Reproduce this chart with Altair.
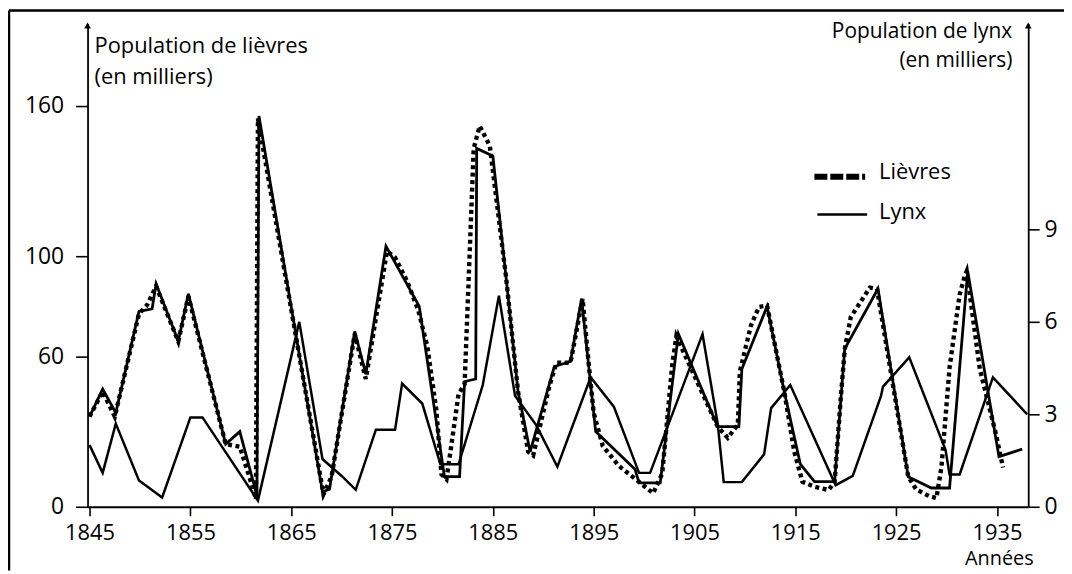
import altair as alt
import pandas as pd

# ---------------- data ----------------
hare_years = [1845, 1846.3, 1847.6, 1849.9, 1851.2, 1851.6, 1853.8, 1854.8, 1858.5, 1859.9,
              1861.6, 1861.8, 1868.1, 1868.8, 1871.3, 1872.4, 1874.4, 1877.7, 1880.2, 1881.7,
              1882.2, 1883.3, 1883.4, 1885.0, 1886.3, 1887.5, 1888.7, 1891.1, 1892.7, 1893.8,
              1895.2, 1899.1, 1899.5, 1901.6, 1903.4, 1907.3, 1909.4, 1909.7, 1912.2, 1913.9,
              1915.5, 1916.9, 1918.9, 1919.9, 1923.2, 1926.2, 1928.5, 1930.3, 1932.1, 1935.2,
              1937.5]
hare_values = [36, 47, 37.5, 78, 79, 89, 66, 85, 25, 30,
               4.5, 156, 6, 7, 70, 53, 104, 80, 12, 12,
               50, 51, 143, 140, 92, 46, 22, 56, 58, 83,
               30, 15, 9.5, 9.5, 69, 32, 32, 55, 80, 46,
               17, 10, 10, 63, 87, 12, 7.5, 7.5, 94, 20,
               23]

hare_dot_years = [1845, 1846.3, 1847.5, 1849.9, 1850.7, 1851.6, 1853.8, 1854.8, 1858.5, 1859.9,
                  1861.0, 1861.5, 1861.7, 1868.2, 1869.0, 1871.3, 1872.4, 1874.5, 1875.3, 1876.5,
                  1877.6, 1878.5, 1879.4, 1879.9, 1880.4, 1880.9, 1881.6, 1882.2, 1883.1, 1883.7,
                  1884.7, 1886.3, 1887.5, 1888.5, 1889.0, 1890.6, 1891.3, 1892.7, 1893.9, 1894.5,
                  1895.0, 1895.9, 1897.5, 1899.2, 1900.9, 1901.8, 1902.8, 1903.2, 1907.3, 1908.3,
                  1909.3, 1909.5, 1910.6, 1911.4, 1912.2, 1913.9, 1914.9, 1915.7, 1916.9, 1918.3,
                  1918.9, 1919.5, 1919.9, 1920.5, 1922.4, 1923.1, 1926.2, 1927.0, 1928.3, 1929.0,
                  1929.5, 1930.3, 1931.3, 1931.8, 1932.0, 1933.3, 1934.9, 1935.6]
hare_dot_values = [36, 46, 36, 77, 80.5, 88, 66, 84, 25, 24,
                   10, 3, 155, 5, 12, 69, 51, 102, 99.5, 90,
                   78.5, 64, 38.5, 13, 11, 25, 45, 49, 143, 152,
                   144, 92, 46, 22, 20.5, 48, 57.5, 57.5, 83, 57.5,
                   37.5, 24.3, 16.3, 10.9, 5.4, 13.3, 57, 68, 32, 27.5,
                   32.8, 54, 72.4, 79.8, 80.3, 46, 22, 10, 8, 6.7,
                   9.9, 43, 62.8, 75.7, 87.5, 87, 12, 6.9, 4.2, 3.5,
                   16, 55.6, 84.7, 92, 94, 55, 29, 15.7]

lynx_years = [1845, 1846.3, 1847.6, 1849.9, 1852.2, 1855.0, 1856.2, 1861.7, 1865.8, 1868.1,
              1870.0, 1871.4, 1873.4, 1875.3, 1876.0, 1878.0, 1879.8, 1881.6, 1884.0, 1885.6,
              1887.2, 1889.3, 1891.4, 1894.7, 1897.0, 1899.5, 1900.6, 1905.8, 1907.3, 1907.9,
              1909.7, 1911.9, 1912.6, 1914.5, 1919.0, 1920.7, 1923.5, 1923.7, 1926.3, 1929.9,
              1930.3, 1931.3, 1934.6, 1938.0]
lynx_values = [2.0, 1.1, 2.7, 0.85, 0.3, 2.9, 2.9, 0.2, 6.0, 1.55,
               1.0, 0.55, 2.5, 2.5, 4.0, 3.35, 1.38, 1.38, 3.95, 6.85,
               3.6, 2.65, 1.3, 4.2, 3.25, 1.1, 1.1, 5.6, 2.7, 0.8,
               0.8, 1.7, 3.2, 3.95, 0.7, 1.0, 3.6, 3.9, 4.85, 1.85,
               1.05, 1.05, 4.2, 3.0]

year_ticks = [1845, 1855, 1865, 1875, 1885, 1895, 1905, 1915, 1925, 1935]
hare_ticks = [0, 60, 100, 160]
lynx_ticks = [0, 3, 6, 9]

# ---------------- layout / style ----------------
W, H = 946, 486
X_DOMAIN = [1844.8, 1938.1]
HARE_MAX = 192.9
LYNX_MAX = 15.68
FONT = "Open Sans"
INK = "#000000"

hare_df = pd.DataFrame({"annee": hare_years, "lievres": hare_values})
hare_dot_df = pd.DataFrame({"annee": hare_dot_years, "lievres": hare_dot_values})
lynx_df = pd.DataFrame({"annee": lynx_years, "lynx": lynx_values})

x_enc = alt.X(
    "annee:Q",
    scale=alt.Scale(domain=X_DOMAIN, nice=False, zero=False),
    axis=alt.Axis(values=year_ticks, format="d", title=None, tickSize=9,
                  labelPadding=7, labelFontSize=22, domainWidth=2),
)

hare_scale = alt.Scale(domain=[0, HARE_MAX], nice=False)
lynx_scale = alt.Scale(domain=[0, LYNX_MAX], nice=False)

hare_line = alt.Chart(hare_df).mark_line(color=INK, strokeWidth=2.8).encode(
    x=x_enc,
    y=alt.Y("lievres:Q", scale=hare_scale,
            axis=alt.Axis(orient="left", values=hare_ticks, title=None, tickSize=12,
                          labelPadding=12, labelFontSize=23)),
)

hare_dots = alt.Chart(hare_dot_df).mark_line(
    color=INK, strokeWidth=4.4, strokeDash=[4, 3.5], strokeCap="butt"
).encode(
    x=x_enc,
    y=alt.Y("lievres:Q", scale=hare_scale, axis=None),
)

lynx_line = alt.Chart(lynx_df).mark_line(color=INK, strokeWidth=2.5).encode(
    x=x_enc,
    y=alt.Y("lynx:Q", scale=lynx_scale,
            axis=alt.Axis(orient="right", values=lynx_ticks, title=None, tickSize=11,
                          labelPadding=5, labelFontSize=23)),
)

one = pd.DataFrame({"k": [0]})


def label(text, x, y, align="left", size=22, weight="normal"):
    return alt.Chart(one).mark_text(
        text=text, align=align, baseline="alphabetic", font=FONT, fontSize=size,
        fontWeight=weight, color=INK,
    ).encode(x=alt.value(x), y=alt.value(y))


def rule(x1, x2, y1, y2, width=2, dash=None):
    kw = dict(color=INK, strokeWidth=width, strokeCap="butt")
    if dash:
        kw["strokeDash"] = dash
    return alt.Chart(one).mark_rule(**kw).encode(
        x=alt.value(x1), x2=alt.value(x2), y=alt.value(y1), y2=alt.value(y2))


def arrow(x, y):
    return alt.Chart(one).mark_point(
        shape="triangle-up", size=45, filled=True, color=INK, opacity=1
    ).encode(x=alt.value(x), y=alt.value(y))


decor = [
    label("Population de lièvres", 7, 30),
    label("(en milliers)", 7, 61),
    label("Population de lynx", 930, 15, align="right", size=21),
    label("(en milliers)", 930, 44, align="right", size=21),
    label("Lièvres", 796, 156),
    label("Lynx", 796, 197),
    label("Années", 917, 545, align="center", size=20),
    rule(731, 782, 154, 154, width=6, dash=[13, 3]),
    rule(734, 784, 192, 192, width=2.4),
    rule(-79, -79, -13, 550, width=2.5),
    rule(-79, 990, -13, -13, width=2.5),
    arrow(0, 2),
    arrow(W, 2),
]

chart = alt.layer(hare_line, hare_dots, lynx_line, *decor).resolve_scale(
    y="independent"
).properties(
    width=W, height=H,
    autosize=alt.AutoSizeParams(type="none"),
    padding={"left": 80, "top": 14, "right": 36, "bottom": 66},
    background="white",
).configure_view(stroke=None).configure_axis(
    grid=False, domainColor=INK, tickColor=INK, labelColor=INK, labelFont=FONT,
    domainWidth=1.8, tickWidth=1.6,
)

chart.save("out.html", embed_options={"renderer": "svg", "actions": False})
